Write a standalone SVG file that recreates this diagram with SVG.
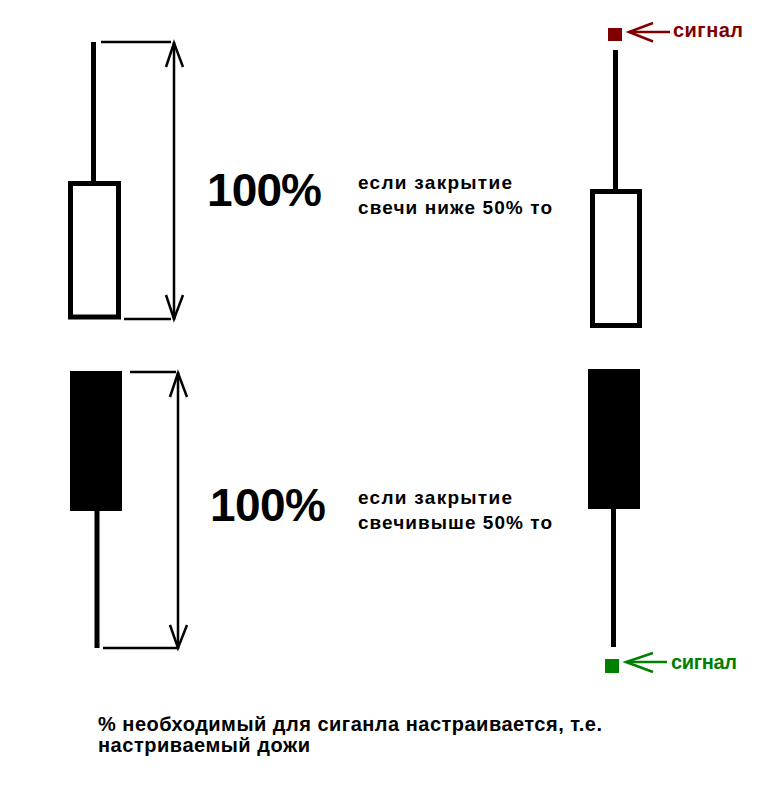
<svg xmlns="http://www.w3.org/2000/svg" width="763" height="808" viewBox="0 0 763 808">
<style>
.wick{stroke:#000;stroke-width:5;fill:none}
.hollow{fill:#fff;stroke:#000;stroke-width:5}
.solid{fill:#000;stroke:none}
.dim{stroke:#000;stroke-width:2.5;fill:none}
.big{font-family:"Liberation Sans",Arial,sans-serif;font-weight:bold;font-size:46px;fill:#000}
.txt{font-family:"Liberation Sans",Arial,sans-serif;font-weight:bold;font-size:19px;fill:#000}
.note{font-family:"Liberation Sans",Arial,sans-serif;font-weight:bold;font-size:20px;fill:#000}
.sig{font-family:"Liberation Sans",Arial,sans-serif;font-weight:bold;font-size:20px}
</style>
<rect x="0" y="0" width="763" height="808" fill="#fff"/>
<g id="candle-top-left">
<line class="wick" x1="93.5" y1="42" x2="93.5" y2="182"/>
<rect class="hollow" x="70.5" y="183.5" width="48" height="133.5"/>
</g>
<g id="candle-bottom-left">
<rect class="solid" x="70" y="371" width="52" height="140"/>
<line class="wick" x1="97" y1="510" x2="97" y2="648"/>
</g>
<g id="candle-top-right">
<line class="wick" x1="615.5" y1="50" x2="615.5" y2="190"/>
<rect class="hollow" x="592.5" y="191.5" width="47" height="134"/>
</g>
<g id="candle-bottom-right">
<rect class="solid" x="588" y="369" width="52" height="140"/>
<line class="wick" x1="613.5" y1="508" x2="613.5" y2="647"/>
</g>
<g id="signal-top">
<rect x="608" y="28" width="14" height="13" fill="#800000"/>
<g stroke="#800000" stroke-width="2.5" fill="none">
<line x1="629" y1="32" x2="670" y2="32"/>
<polyline points="653,23 629,32 653,41.5"/>
</g>
<text class="sig" x="673" y="37" fill="#800000" textLength="70" lengthAdjust="spacing">сигнал</text>
</g>
<g id="signal-bottom">
<rect x="605" y="659" width="14" height="14" fill="#008000"/>
<g stroke="#008000" stroke-width="2.5" fill="none">
<line x1="626" y1="662" x2="667" y2="662"/>
<polyline points="653,653 626,662 653,672"/>
</g>
<text class="sig" x="671" y="669" fill="#008000" textLength="66" lengthAdjust="spacing">сигнал</text>
</g>
<g id="connectors">
<line class="dim" x1="101" y1="42" x2="171" y2="42"/>
<line class="dim" x1="124" y1="319" x2="171" y2="319"/>
<line class="dim" x1="174" y1="42" x2="174" y2="320"/>
<polyline class="dim" points="166,67 174,43 183,67"/>
<polyline class="dim" points="166,295 174,319 183,295"/>
<line class="dim" x1="130" y1="372" x2="176" y2="372"/>
<line class="dim" x1="103" y1="648" x2="178" y2="648"/>
<line class="dim" x1="178" y1="372" x2="178" y2="649"/>
<polyline class="dim" points="170,397 178,373 187,397"/>
<polyline class="dim" points="170,625 178,648 187,625"/>
</g>
<g id="label-top">
<text class="big" x="207" y="206" textLength="115" lengthAdjust="spacing">100%</text>
<text class="txt" x="358" y="189" textLength="154" lengthAdjust="spacing">если закрытие</text>
<text class="txt" x="358" y="214" textLength="194" lengthAdjust="spacing">свечи ниже 50% то</text>
</g>
<g id="label-bottom">
<text class="big" x="210" y="521" textLength="116" lengthAdjust="spacing">100%</text>
<text class="txt" x="358" y="504" textLength="154" lengthAdjust="spacing">если закрытие</text>
<text class="txt" x="358" y="529" textLength="194" lengthAdjust="spacing">свечивыше 50% то</text>
</g>
<g id="note">
<text class="note" x="98" y="731" textLength="504" lengthAdjust="spacing">% необходимый для сиганла настраивается, т.е.</text>
<text class="note" x="98" y="752" textLength="212" lengthAdjust="spacing">настриваемый дожи</text>
</g>
</svg>
